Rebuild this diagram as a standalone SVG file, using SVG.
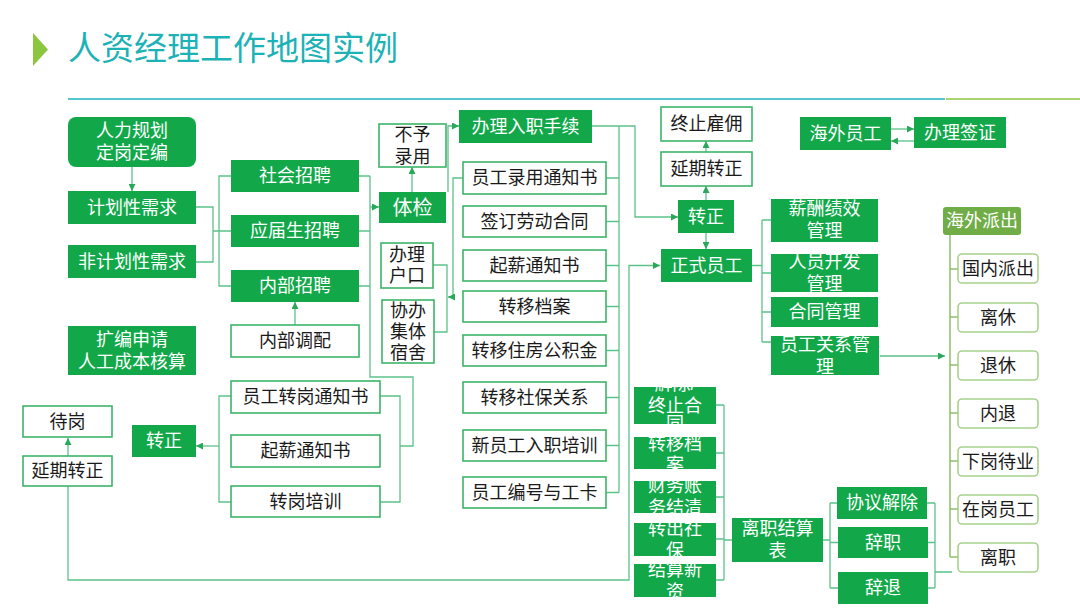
<svg xmlns="http://www.w3.org/2000/svg" width="1080" height="608" viewBox="0 0 1080 608">
<style>
text{font-family:"Liberation Sans","Noto Sans CJK SC",sans-serif;font-size:18px;text-anchor:middle;dominant-baseline:central}
.g rect{fill:#12a84a}
.g text{fill:#ffffff}
.w rect{fill:#ffffff;stroke:#3cb56a;stroke-width:1.6}
.w text{fill:#1a1a1a}
.o rect{fill:#70ad47}
.o text{fill:#ffffff}
.l rect{fill:#ffffff;stroke:#a9d18e;stroke-width:1.6}
.l text{fill:#1a1a1a}
.c path{fill:none;stroke:#5cc28a;stroke-width:1.3}
.c path.ol{stroke:#8fbf6a;stroke-width:1.5}
</style>
<defs>
<marker id="a" viewBox="0 0 10 10" refX="10" refY="5" markerWidth="7" markerHeight="7" markerUnits="userSpaceOnUse" orient="auto"><path d="M0,0 L10,5 L0,10 z" fill="#2aa85a"/></marker>
<clipPath id="k33"><rect x="771" y="254" width="107" height="38"/></clipPath>
<clipPath id="k35"><rect x="771" y="336" width="108" height="39"/></clipPath>
<clipPath id="k46"><rect x="634" y="387" width="82" height="37"/></clipPath>
<clipPath id="k47"><rect x="634" y="437" width="82" height="32"/></clipPath>
<clipPath id="k48"><rect x="634" y="481" width="82" height="32"/></clipPath>
<clipPath id="k49"><rect x="634" y="523" width="82" height="33"/></clipPath>
<clipPath id="k50"><rect x="634" y="564" width="82" height="33"/></clipPath>
</defs>
<rect width="1080" height="608" fill="#ffffff"/>
<g id="title">
<polygon points="33,33 48,49.5 33,66" fill="#8cc63f"/>
<text x="68" y="48" style="font-size:33px;text-anchor:start;fill:#1db2b6">人资经理工作地图实例</text>
<line x1="68" y1="99" x2="945" y2="99" stroke="#1ab3c0" stroke-width="1.5"/>
<line x1="946" y1="99" x2="1080" y2="99" stroke="#8dc63f" stroke-width="1.5"/>
</g>
<g class="c" id="connectors">
<path d="M132 167 V191" marker-end="url(#a)"/>
<path d="M196 207 H213 V262 H196 M213 231 H231 M231 176 H219 V286 H231"/>
<path d="M359 176 H370 M359 231 H370 M359 286 H370 M370 176 V377 H413 V446 H400"/>
<path d="M370 207 H379" marker-end="url(#a)"/>
<path d="M295 325 V302" marker-end="url(#a)"/>
<path d="M380 396 H400 V502 H380"/>
<path d="M231 396 H219 V502 H231"/>
<path d="M219 446 H196" marker-end="url(#a)"/>
<path d="M68 456 V438" marker-end="url(#a)"/>
<path d="M68 486 V580 H629 V265.5 H660" marker-end="url(#a)"/>
<path d="M412 192 V167" marker-end="url(#a)"/>
<path d="M448 192 V126 H459" marker-end="url(#a)"/>
<path d="M433 265 H447 V332 H433"/>
<path d="M463 178 H453 V297 H448" marker-end="url(#a)"/>
<path d="M619 126 V492.5 M606 178 H619 M606 221.5 H619 M606 265.5 H619 M606 306.5 H619 M606 350.5 H619 M606 397.5 H619 M606 445.5 H619 M606 492.5 H619"/>
<path d="M592 126 H635 V217 H678" marker-end="url(#a)"/>
<path d="M706 200 V186" marker-end="url(#a)"/>
<path d="M706 152 V141" marker-end="url(#a)"/>
<path d="M706 233 V249" marker-end="url(#a)"/>
<path d="M752 265.5 H762 M762 220 V342 M762 220 H771 M762 273 H771 M762 312 H771 M762 342 H771"/>
<path d="M880 356 H945" marker-end="url(#a)"/>
<path d="M891 129 H914" marker-end="url(#a)"/>
<path d="M914 141 H891" marker-end="url(#a)"/>
<path d="M716 405 H724 M716 453 H724 M716 497 H724 M716 539 H724 M716 580 H724 M724 405 V580 M724 540 H732"/>
<path d="M823 540 H830 M830 503 V588 M830 503 H837 M830 542.5 H838 M830 588 H838"/>
<path d="M927 503 H935 M928 542.5 H935 M928 588 H935 M935 503 V588 M935 572 H952"/>
<path class="ol" d="M950 235 V557 M950 269 H958 M950 317 H958 M950 365 H958 M950 413 H958 M950 461 H958 M950 509 H958 M950 557 H958"/>
</g>
<g id="n1" class="g"><rect x="68" y="117" width="128" height="50" rx="8"/><text x="132" y="131">人力规划</text><text x="132" y="153">定岗定编</text></g>
<g id="n2" class="g"><rect x="68" y="191" width="128" height="33"/><text x="132" y="207.5">计划性需求</text></g>
<g id="n3" class="g"><rect x="68" y="245" width="128" height="33"/><text x="132" y="261.5">非计划性需求</text></g>
<g id="n4" class="g"><rect x="68" y="326" width="128" height="49"/><text x="132" y="340">扩编申请</text><text x="132" y="362">人工成本核算</text></g>
<g id="n5" class="g"><rect x="231" y="160" width="128" height="32"/><text x="295" y="176">社会招聘</text></g>
<g id="n6" class="g"><rect x="231" y="215" width="128" height="32"/><text x="295" y="231">应届生招聘</text></g>
<g id="n7" class="g"><rect x="231" y="270" width="128" height="32"/><text x="295" y="286">内部招聘</text></g>
<g id="n8" class="w"><rect x="231" y="325" width="128" height="32"/><text x="295" y="341">内部调配</text></g>
<g id="n9" class="w"><rect x="231" y="381" width="149" height="32"/><text x="305.5" y="397">员工转岗通知书</text></g>
<g id="n10" class="w"><rect x="231" y="435" width="149" height="32"/><text x="305.5" y="451">起薪通知书</text></g>
<g id="n11" class="w"><rect x="231" y="486" width="149" height="31"/><text x="305.5" y="501.5">转岗培训</text></g>
<g id="n12" class="g"><rect x="132" y="425" width="64" height="32"/><text x="164" y="441">转正</text></g>
<g id="n13" class="w"><rect x="23" y="406" width="89" height="31"/><text x="67.5" y="421.5">待岗</text></g>
<g id="n14" class="w"><rect x="23" y="456" width="89" height="30"/><text x="67.5" y="471">延期转正</text></g>
<g id="n15" class="w"><rect x="379" y="124" width="67" height="43"/><text x="412.5" y="135">不予</text><text x="412.5" y="157">录用</text></g>
<g id="n16" class="g"><rect x="379" y="192" width="67" height="31"/><text x="412.5" y="207.5" style="font-size:20px">体检</text></g>
<g id="n17" class="w"><rect x="381" y="243" width="52" height="45"/><text x="407" y="255">办理</text><text x="407" y="276">户口</text></g>
<g id="n18" class="w"><rect x="382" y="300" width="52" height="63"/><text x="408" y="311">协办</text><text x="408" y="332">集体</text><text x="408" y="353">宿舍</text></g>
<g id="n19" class="g"><rect x="459" y="110" width="133" height="33"/><text x="525.5" y="126.5">办理入职手续</text></g>
<g id="n20" class="w"><rect x="463" y="162" width="143" height="32"/><text x="534.5" y="178">员工录用通知书</text></g>
<g id="n21" class="w"><rect x="463" y="206" width="143" height="31"/><text x="534.5" y="221.5">签订劳动合同</text></g>
<g id="n22" class="w"><rect x="463" y="250" width="143" height="31"/><text x="534.5" y="265.5">起薪通知书</text></g>
<g id="n23" class="w"><rect x="463" y="291" width="143" height="31"/><text x="534.5" y="306.5">转移档案</text></g>
<g id="n24" class="w"><rect x="463" y="335" width="143" height="31"/><text x="534.5" y="350.5">转移住房公积金</text></g>
<g id="n25" class="w"><rect x="463" y="382" width="143" height="31"/><text x="534.5" y="397.5">转移社保关系</text></g>
<g id="n26" class="w"><rect x="463" y="430" width="143" height="31"/><text x="534.5" y="445.5">新员工入职培训</text></g>
<g id="n27" class="w"><rect x="463" y="477" width="143" height="31"/><text x="534.5" y="492.5">员工编号与工卡</text></g>
<g id="n28" class="w"><rect x="661" y="107" width="91" height="34"/><text x="706.5" y="124">终止雇佣</text></g>
<g id="n29" class="w"><rect x="661" y="152" width="91" height="34"/><text x="706.5" y="169">延期转正</text></g>
<g id="n30" class="g"><rect x="678" y="200" width="56" height="33"/><text x="706" y="216.5">转正</text></g>
<g id="n31" class="g"><rect x="661" y="249" width="91" height="33"/><text x="706.5" y="265.5">正式员工</text></g>
<g id="n32" class="g"><rect x="771" y="199" width="107" height="43"/><text x="824.5" y="209">薪酬绩效</text><text x="824.5" y="231">管理</text></g>
<g id="n33" class="g"><rect x="771" y="254" width="107" height="38"/><g clip-path="url(#k33)"><text x="824.5" y="262">人员开发</text><text x="824.5" y="284">管理</text></g></g>
<g id="n34" class="g"><rect x="771" y="297" width="107" height="30"/><text x="824.5" y="312">合同管理</text></g>
<g id="n35" class="g"><rect x="771" y="336" width="108" height="39"/><g clip-path="url(#k35)"><text x="825" y="345">员工关系管</text><text x="825" y="367">理</text></g></g>
<g id="n36" class="g"><rect x="800" y="117" width="91" height="33"/><text x="845.5" y="133.5">海外员工</text></g>
<g id="n37" class="g"><rect x="914" y="117" width="92" height="31"/><text x="960" y="132.5">办理签证</text></g>
<g id="n38" class="o"><rect x="943" y="207" width="78" height="28" rx="3"/><text x="982" y="221">海外派出</text></g>
<g id="n39" class="l"><rect x="958" y="254" width="80" height="29" rx="4"/><text x="998" y="268.5">国内派出</text></g>
<g id="n40" class="l"><rect x="958" y="303" width="80" height="29" rx="4"/><text x="998" y="317.5">离休</text></g>
<g id="n41" class="l"><rect x="958" y="351" width="80" height="29" rx="4"/><text x="998" y="365.5">退休</text></g>
<g id="n42" class="l"><rect x="958" y="399" width="80" height="29" rx="4"/><text x="998" y="413.5">内退</text></g>
<g id="n43" class="l"><rect x="958" y="447" width="80" height="29" rx="4"/><text x="998" y="461.5">下岗待业</text></g>
<g id="n44" class="l"><rect x="958" y="495" width="80" height="29" rx="4"/><text x="998" y="509.5">在岗员工</text></g>
<g id="n45" class="l"><rect x="958" y="543" width="80" height="29" rx="4"/><text x="998" y="557.5">离职</text></g>
<g id="n46" class="g"><rect x="634" y="387" width="82" height="37"/><g clip-path="url(#k46)"><text x="675" y="384">解除/</text><text x="675" y="405.5">终止合</text><text x="675" y="424">同</text></g></g>
<g id="n47" class="g"><rect x="634" y="437" width="82" height="32"/><g clip-path="url(#k47)"><text x="675" y="444">转移档</text><text x="675" y="465">案</text></g></g>
<g id="n48" class="g"><rect x="634" y="481" width="82" height="32"/><g clip-path="url(#k48)"><text x="675" y="486">财务账</text><text x="675" y="508">务结清</text></g></g>
<g id="n49" class="g"><rect x="634" y="523" width="82" height="33"/><g clip-path="url(#k49)"><text x="675" y="529">转出社</text><text x="675" y="551">保</text></g></g>
<g id="n50" class="g"><rect x="634" y="564" width="82" height="33"/><g clip-path="url(#k50)"><text x="675" y="570">结算新</text><text x="675" y="592">资</text></g></g>
<g id="n51" class="g"><rect x="732" y="518" width="91" height="44"/><text x="777.5" y="529">离职结算</text><text x="777.5" y="551">表</text></g>
<g id="n52" class="g"><rect x="837" y="487" width="90" height="32"/><text x="882" y="503">协议解除</text></g>
<g id="n53" class="g"><rect x="838" y="527" width="90" height="31"/><text x="883" y="542.5">辞职</text></g>
<g id="n54" class="g"><rect x="838" y="572" width="90" height="32"/><text x="883" y="588">辞退</text></g>
</svg>
